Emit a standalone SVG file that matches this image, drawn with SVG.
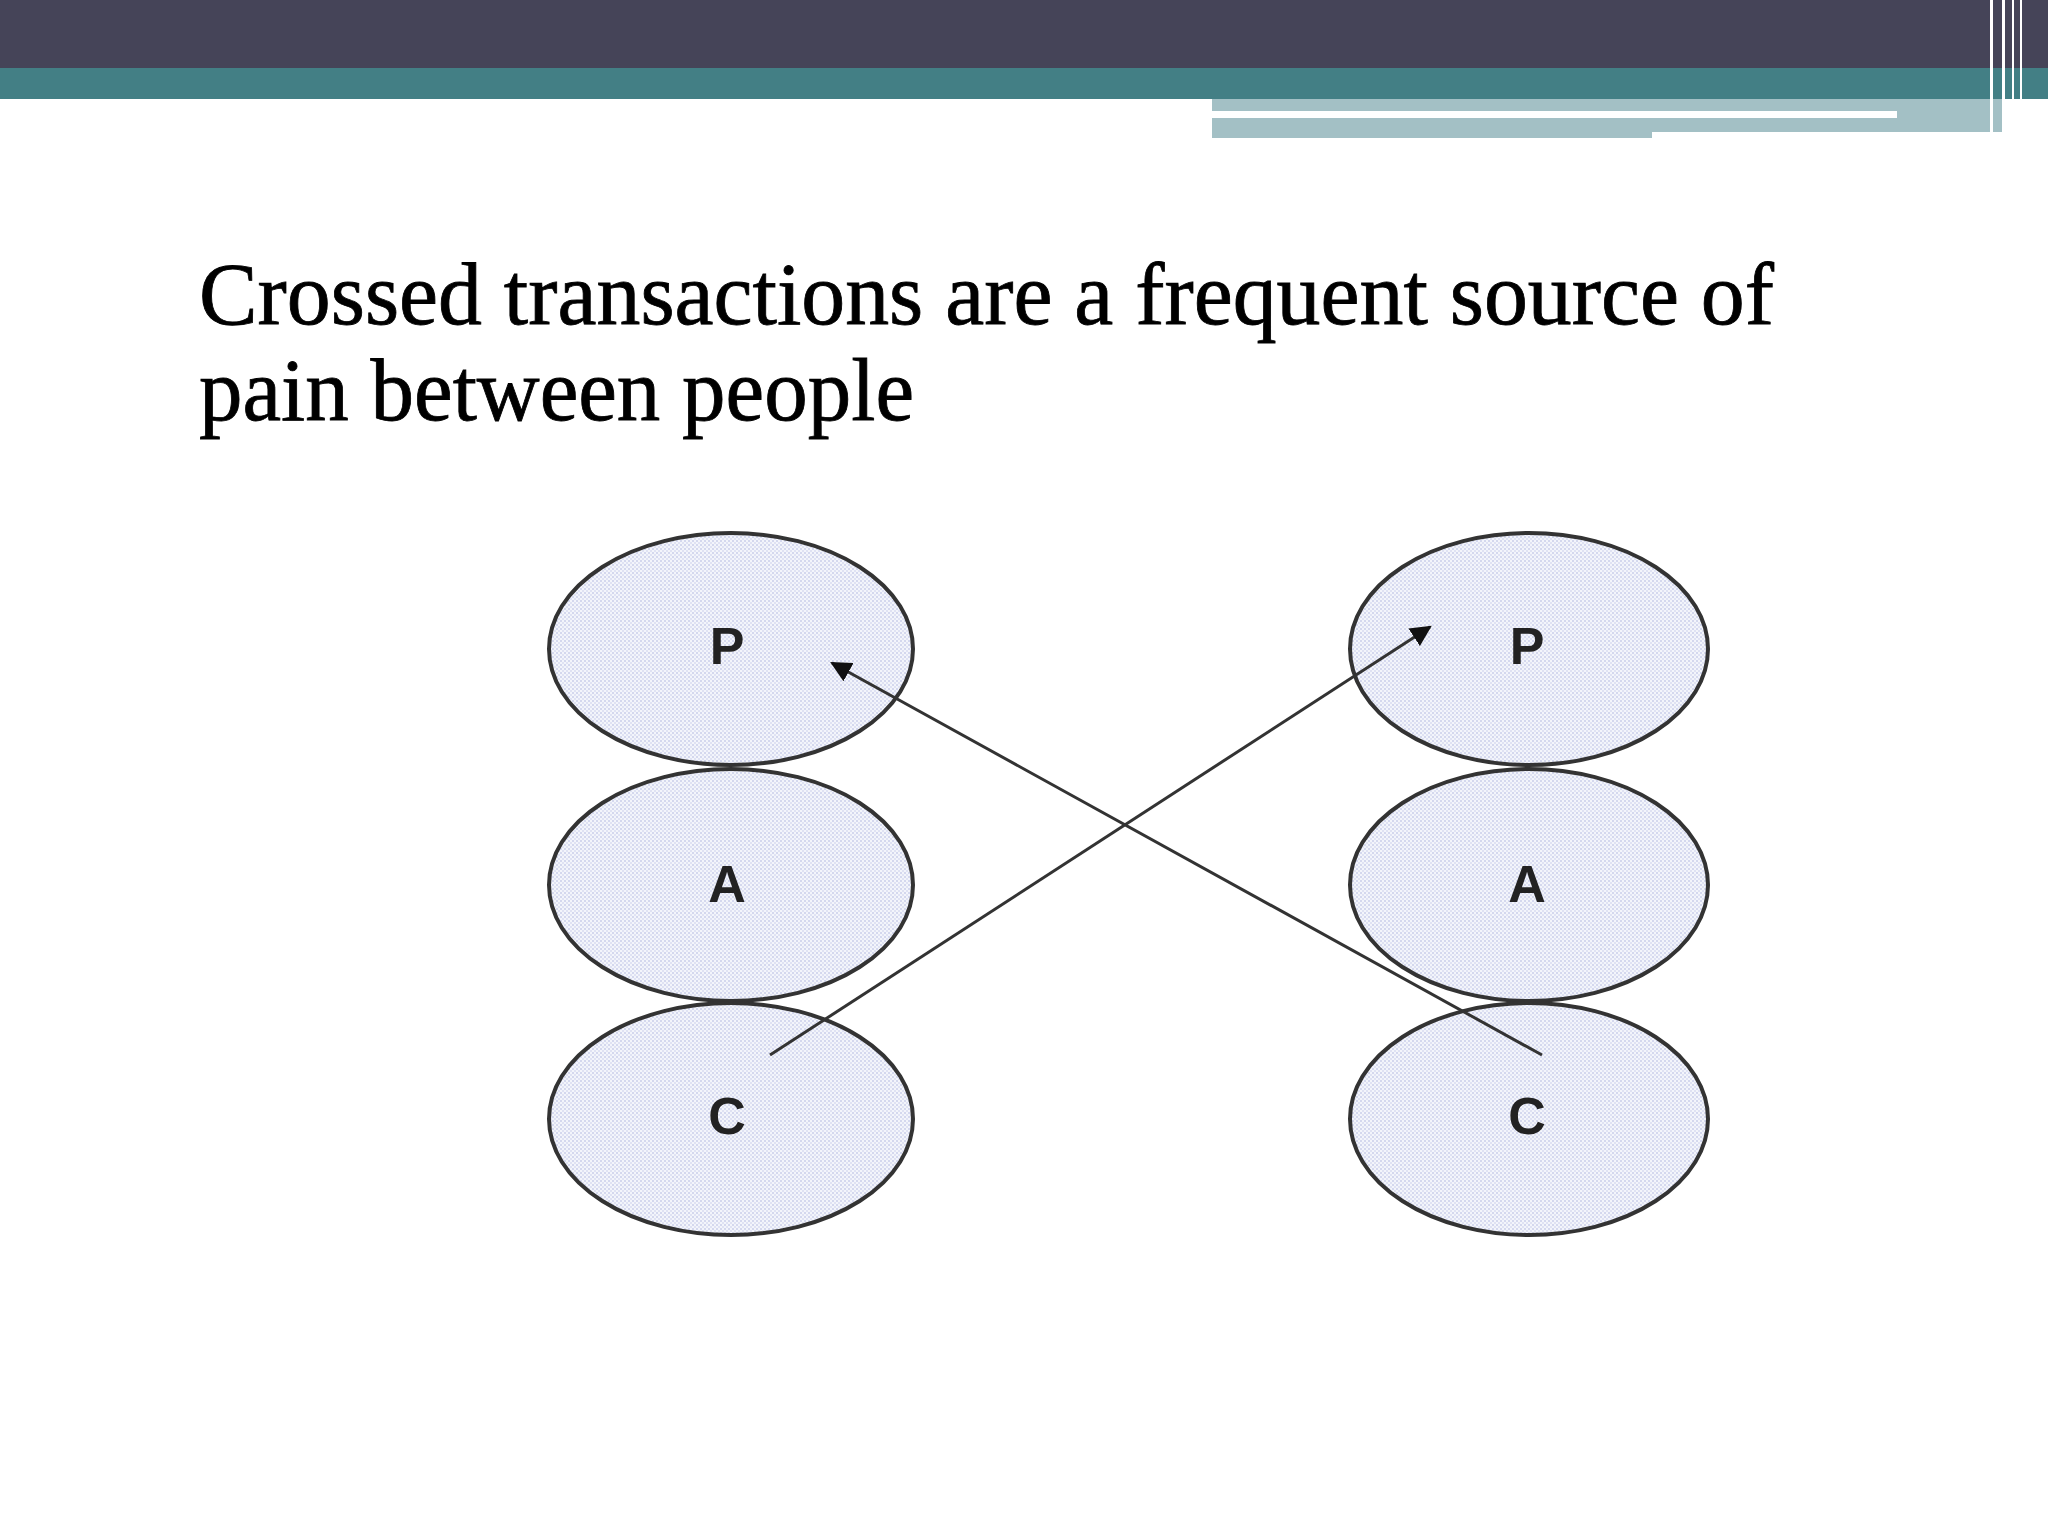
<svg xmlns="http://www.w3.org/2000/svg" width="2048" height="1536" viewBox="0 0 2048 1536">
<defs>
<pattern id="dots" width="4" height="4" patternUnits="userSpaceOnUse"><rect width="4" height="4" fill="#f3f5fb"/><rect width="2" height="2" fill="#d4d8ee"/><rect x="2" y="2" width="2" height="2" fill="#dfe2f3"/></pattern>
<marker id="ah" viewBox="0 0 10 10" refX="9" refY="5" markerWidth="7" markerHeight="7" orient="auto"><path d="M0,0 L10,5 L0,10 z" fill="#111"/></marker>
</defs>
<style>
.e{fill:url(#dots);stroke:#333;stroke-width:4}
.l{font-family:"Liberation Sans",Arial,sans-serif;font-size:52px;font-weight:bold;fill:#222;text-anchor:middle}
.c{stroke:#333;stroke-width:3;fill:none;marker-end:url(#ah)}
.t{font-family:"Liberation Serif","DejaVu Serif",serif;font-size:88px;fill:#000;stroke:#000;stroke-width:0.8}
</style>
<rect width="2048" height="1536" fill="#fff"/>
<rect x="0" y="0" width="2048" height="68" fill="#454458"/>
<rect x="0" y="68" width="2048" height="31" fill="#437f85"/>
<rect x="1212" y="99" width="790" height="39" fill="#a3c0c5"/>
<rect x="1212" y="111" width="685" height="7" fill="#fff"/>
<rect x="1652" y="132" width="350" height="8" fill="#fff"/>
<rect x="1990" y="0" width="3" height="132" fill="#fff"/>
<rect x="2002" y="0" width="3" height="138" fill="#fff"/>
<rect x="2012" y="0" width="2" height="138" fill="#fff"/>
<rect x="2020" y="0" width="2" height="138" fill="#fff"/>
<text class="t" x="199" y="324" textLength="1575" lengthAdjust="spacingAndGlyphs">Crossed transactions are a frequent source of</text>
<text class="t" x="199" y="420" textLength="715" lengthAdjust="spacingAndGlyphs">pain between people</text>
<g id="lP"><ellipse class="e" cx="731" cy="649" rx="182" ry="116"/><text class="l" x="727" y="664">P</text></g>
<g id="lA"><ellipse class="e" cx="731" cy="885" rx="182" ry="116"/><text class="l" x="727" y="902">A</text></g>
<g id="lC"><ellipse class="e" cx="731" cy="1119" rx="182" ry="116"/><text class="l" x="727" y="1134">C</text></g>
<g id="rP"><ellipse class="e" cx="1529" cy="649" rx="179" ry="116"/><text class="l" x="1527" y="664">P</text></g>
<g id="rA"><ellipse class="e" cx="1529" cy="885" rx="179" ry="116"/><text class="l" x="1527" y="902">A</text></g>
<g id="rC"><ellipse class="e" cx="1529" cy="1119" rx="179" ry="116"/><text class="l" x="1527" y="1134">C</text></g>
<g id="connectors">
<line class="c" x1="770" y1="1055" x2="1430" y2="627"/>
<line class="c" x1="1542" y1="1055" x2="832" y2="663"/>
</g>
</svg>
